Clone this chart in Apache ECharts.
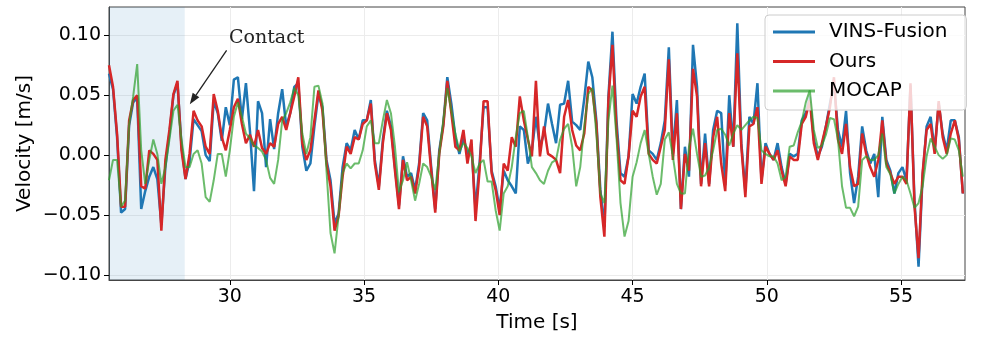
<!DOCTYPE html>
<html><head><meta charset="utf-8">
<script src="https://cdn.jsdelivr.net/npm/echarts@6/dist/echarts.min.js"></script>
<style>html,body{margin:0;padding:0;background:#fff}#c{width:996px;height:343px}</style>
</head><body><div id="c"></div>
<script>
// time base (s): samples every DT seconds from T0
const T0 = 25.5, DT = 0.15;
const xRange = [25.5, 57.38];
const yRange = [-0.1042, 0.1236];
const xTicks = [30, 35, 40, 45, 50, 55];
const yTicks = [-0.10, -0.05, 0.00, 0.05, 0.10];
const contactSpan = [25.5, 28.32];
const seriesNames = ['VINS-Fusion', 'Ours', 'MOCAP'];
const contactLabel = 'Contact';
const contactTextAt = [29.97, 0.098];
const arrowFrom = [29.88, 0.0875];
const arrowTo = [28.51, 0.0425];

const vins = [
 0.068, 0.055, 0.015, -0.048, -0.045, 0.025, 0.044, 0.048, -0.045, -0.030,
 -0.018, -0.010, -0.020, -0.058, -0.010, 0.018, 0.050, 0.060, 0.008, -0.020,
 -0.005, 0.030, 0.025, 0.020, 0.000, -0.005, 0.045, 0.035, 0.012, 0.040,
 0.025, 0.063, 0.065, 0.030, 0.060, 0.020, -0.030, 0.045, 0.035, -0.010,
 0.030, 0.005, 0.035, 0.055, 0.024, 0.035, 0.057, 0.060, 0.007, -0.013,
 -0.007, 0.024, 0.051, 0.040, -0.004, -0.021, -0.057, -0.049, -0.010, 0.010,
 0.004, 0.021, 0.013, 0.029, 0.029, 0.046, -0.004, -0.026, 0.013, 0.037,
 0.024, -0.010, -0.042, -0.001, -0.018, -0.015, -0.029, -0.007, 0.035, 0.029,
 -0.010, -0.045, 0.004, 0.026, 0.065, 0.043, 0.015, 0.001, 0.015, 0.001,
 0.007, -0.045, -0.007, 0.040, 0.040, -0.013, -0.026, -0.045, -0.013, -0.021,
 -0.026, -0.032, 0.024, 0.021, -0.007, 0.004, 0.032, 0.007, 0.018, 0.043,
 0.026, 0.010, 0.042, 0.043, 0.062, 0.028, 0.025, 0.021, 0.047, 0.078,
 0.065, 0.029, -0.029, -0.060, 0.049, 0.103, 0.029, -0.015, -0.018, -0.001,
 0.051, 0.043, 0.057, 0.068, 0.004, 0.001, -0.004, 0.010, 0.029, 0.090,
 0.001, 0.046, -0.045, 0.007, -0.018, 0.092, 0.057, -0.024, 0.018, -0.024,
 0.021, 0.037, 0.035, -0.025, 0.050, 0.007, 0.110, 0.010, -0.030, 0.032,
 0.026, 0.060, -0.021, 0.010, 0.001, -0.004, 0.010, -0.010, -0.024, 0.001,
 -0.001, 0.001, 0.029, 0.035, 0.049, 0.013, -0.001, 0.007, 0.024, 0.043,
 0.060, 0.021, 0.007, 0.037, -0.015, -0.040, -0.018, 0.024, 0.004, -0.007,
 0.001, -0.035, 0.032, -0.004, -0.013, -0.032, -0.015, -0.010, -0.021, 0.058,
 -0.038, -0.093, -0.018, 0.024, 0.032, 0.004, 0.043, 0.018, 0.004, 0.029,
 0.029, 0.015, -0.032
];

const ours = [
 0.075, 0.057, 0.018, -0.043, -0.043, 0.029, 0.046, 0.050, -0.026, -0.028,
 0.004, 0.001, -0.004, -0.063, -0.004, 0.021, 0.051, 0.062, 0.004, -0.020,
 0.001, 0.037, 0.029, 0.024, 0.007, 0.001, 0.051, 0.037, 0.015, 0.004,
 0.021, 0.040, 0.047, 0.026, 0.010, 0.017, 0.007, 0.021, 0.006, 0.001,
 0.010, 0.007, 0.026, 0.032, 0.021, 0.035, 0.049, 0.065, 0.010, -0.004,
 0.004, 0.029, 0.054, 0.037, -0.007, -0.026, -0.063, -0.051, -0.018, 0.007,
 0.001, 0.015, 0.013, 0.026, 0.029, 0.043, -0.007, -0.029, 0.010, 0.035,
 0.021, -0.013, -0.045, -0.004, -0.021, -0.018, -0.032, -0.010, 0.032, 0.024,
 -0.013, -0.048, 0.001, 0.024, 0.062, 0.035, 0.007, 0.004, 0.021, -0.007,
 0.013, -0.055, -0.013, 0.045, 0.045, -0.015, -0.029, -0.050, -0.007, -0.013,
 0.015, 0.007, 0.049, 0.029, 0.013, -0.001, 0.062, -0.001, 0.024, 0.001,
 -0.001, -0.004, -0.015, 0.032, 0.046, 0.021, 0.008, 0.004, 0.018, 0.057,
 0.054, 0.026, -0.035, -0.068, 0.046, 0.092, 0.021, -0.021, -0.024, -0.001,
 0.037, 0.032, 0.049, 0.057, 0.001, -0.004, -0.007, 0.007, 0.021, 0.080,
 -0.004, 0.035, -0.045, 0.001, -0.013, 0.072, 0.049, -0.026, 0.010, -0.026,
 0.015, 0.032, -0.007, -0.030, 0.035, 0.007, 0.085, 0.007, -0.035, 0.024,
 0.026, 0.040, -0.024, 0.007, 0.001, -0.004, 0.004, -0.013, -0.026, -0.001,
 -0.004, -0.004, 0.026, 0.032, 0.046, 0.010, -0.004, 0.010, 0.024, 0.040,
 0.065, 0.013, 0.001, 0.026, -0.010, -0.026, -0.024, 0.018, 0.001, -0.010,
 -0.018, -0.004, 0.029, -0.007, -0.015, -0.024, -0.018, -0.018, -0.024, 0.060,
 -0.043, -0.086, -0.015, 0.021, 0.026, 0.001, 0.045, 0.015, 0.001, 0.018,
 0.029, 0.013, -0.032
];

const mocap = [
 -0.021, -0.004, -0.004, -0.043, -0.038, 0.026, 0.049, 0.076, 0.004, -0.024,
 -0.004, 0.013, 0.001, -0.024, -0.010, 0.013, 0.037, 0.042, 0.013, -0.010,
 -0.010, 0.001, 0.004, -0.007, -0.035, -0.039, -0.021, 0.001, 0.001, -0.018,
 0.004, 0.032, 0.044, 0.032, 0.018, 0.014, 0.008, 0.006, 0.003, -0.004,
 -0.019, -0.024, -0.004, 0.029, 0.035, 0.044, 0.056, 0.050, 0.018, 0.001,
 0.015, 0.057, 0.058, 0.043, -0.013, -0.065, -0.082, -0.051, -0.015, -0.007,
 -0.011, -0.007, -0.007, 0.004, 0.024, 0.029, 0.010, 0.010, 0.029, 0.046,
 0.035, 0.007, -0.031, -0.021, -0.006, -0.021, -0.038, -0.024, -0.007, -0.010,
 -0.018, -0.029, 0.001, 0.029, 0.056, 0.037, 0.018, 0.003, 0.010, 0.006,
 -0.001, -0.015, -0.007, -0.004, -0.022, -0.022, -0.046, -0.063, -0.032, -0.026,
 -0.010, 0.015, 0.035, 0.037, 0.015, -0.010, -0.015, -0.021, -0.024, -0.013,
 -0.006, -0.004, 0.013, 0.022, 0.026, 0.007, -0.026, -0.010, 0.024, 0.051,
 0.056, 0.018, -0.032, -0.040, 0.029, 0.058, 0.015, -0.040, -0.068, -0.055,
 -0.018, -0.006, 0.010, 0.021, 0.001, -0.018, -0.033, -0.024, 0.013, 0.019,
 -0.001, -0.024, -0.032, -0.032, 0.007, 0.022, 0.001, -0.018, -0.017, -0.010,
 0.004, 0.021, 0.022, 0.017, 0.008, 0.018, 0.025, 0.021, 0.025, 0.029,
 0.032, 0.031, 0.004, 0.001, -0.001, -0.001, -0.007, -0.021, -0.018, 0.007,
 0.008, 0.019, 0.028, 0.044, 0.054, 0.021, 0.006, 0.008, 0.017, 0.031,
 0.030, 0.013, -0.026, -0.044, -0.044, -0.051, -0.043, -0.004, -0.001, -0.004,
 -0.004, 0.000, 0.018, -0.010, -0.016, -0.032, -0.024, -0.018, -0.021, -0.032,
 -0.044, -0.040, -0.026, -0.001, 0.014, 0.007, 0.000, -0.003, 0.000, 0.014,
 0.013, 0.004, -0.018
];

const toPairs = a => a.map((v, i) => [Math.round((T0 + DT * i) * 1000) / 1000, v]);
const FONT = 'DejaVu Sans';
const fmtY = v => (v < 0 ? '\u2212' : '') + Math.abs(v).toFixed(2);

const chart = echarts.init(document.getElementById('c'), null, { renderer: 'canvas' });

const axisCommon = {
  splitLine: { show: true, lineStyle: { color: '#ececec', width: 1 } },
  nameTextStyle: { fontSize: 20, fontFamily: FONT, color: '#000' },
  nameMoveOverlap: false
};

chart.setOption({
  animation: false,
  grid: { left: 109, right: 31, top: 7, bottom: 63, show: true, borderColor: '#444', borderWidth: 1, backgroundColor: 'transparent' },
  xAxis: Object.assign({}, axisCommon, {
    type: 'value', min: xRange[0], max: xRange[1],
    name: 'Time [s]', nameLocation: 'middle', nameGap: 33,
    axisLine: { show: true, onZero: false, lineStyle: { color: '#444', width: 1 } },
    axisTick: { show: true, length: 5, lineStyle: { color: '#000' }, customValues: xTicks },
    axisLabel: { fontSize: 19, fontFamily: FONT, color: '#000', margin: 8, customValues: xTicks,
      formatter: v => String(v) }
  }),
  yAxis: Object.assign({}, axisCommon, {
    type: 'value', min: yRange[0], max: yRange[1],
    name: 'Velocity [m/s]', nameLocation: 'middle', nameGap: 74,
    axisLine: { show: true, onZero: false, lineStyle: { color: '#444', width: 1 } },
    axisTick: { show: true, length: 5, lineStyle: { color: '#000' }, customValues: yTicks },
    axisLabel: { fontSize: 19, fontFamily: FONT, color: '#000', margin: 8, customValues: yTicks,
      formatter: fmtY }
  }),
  legend: {
    orient: 'vertical', left: 765, top: 15,
    padding: [7, 19, 9, 8], itemWidth: 42, itemHeight: 3, itemGap: 9.5,
    icon: 'rect',
    backgroundColor: 'rgba(255,255,255,0.8)', borderColor: '#cccccc', borderWidth: 1, borderRadius: 4,
    textStyle: { fontSize: 20, fontFamily: FONT, color: '#000', padding: [0, 0, 0, 9] },
    data: seriesNames
  },
  series: [
    { name: seriesNames[0], type: 'line', data: toPairs(vins), showSymbol: false, symbol: 'none',
      lineStyle: { color: '#1f77b4', width: 2.5 }, itemStyle: { color: '#1f77b4' }, z: 2,
      markArea: { silent: true, itemStyle: { color: 'rgba(31,119,180,0.11)' },
        data: [[{ xAxis: contactSpan[0] }, { xAxis: contactSpan[1] }]] } },
    { name: seriesNames[1], type: 'line', data: toPairs(ours), showSymbol: false, symbol: 'none',
      lineStyle: { color: '#d62728', width: 2.5 }, itemStyle: { color: '#d62728' }, z: 3 },
    { name: seriesNames[2], type: 'line', data: toPairs(mocap), showSymbol: false, symbol: 'none',
      lineStyle: { color: 'rgba(44,160,44,0.7)', width: 2 }, itemStyle: { color: 'rgba(44,160,44,0.7)' }, z: 4 }
  ]
});

// annotation placed through the chart's own scales
const P = d => chart.convertToPixel({ gridIndex: 0 }, d);
const a = P(arrowFrom), b = P(arrowTo), tp = P(contactTextAt);
const dx = b[0] - a[0], dy = b[1] - a[1], L = Math.hypot(dx, dy);
const ux = dx / L, uy = dy / L, hl = 11, hw = 4;
const base = [b[0] - ux * hl, b[1] - uy * hl];
chart.setOption({
  graphic: [
    { type: 'line', z: 100, shape: { x1: a[0], y1: a[1], x2: base[0], y2: base[1] }, style: { stroke: '#222', lineWidth: 1.3 } },
    { type: 'polygon', z: 100, shape: { points: [b, [base[0] - uy * hw, base[1] + ux * hw], [base[0] + uy * hw, base[1] - ux * hw]] }, style: { fill: '#222' } },
    { type: 'text', z: 100, x: tp[0], y: tp[1], style: { text: contactLabel, fontSize: 19, fontFamily: 'DejaVu Serif', fill: '#222', align: 'left', verticalAlign: 'middle' } }
  ]
});
</script>
</body></html>
